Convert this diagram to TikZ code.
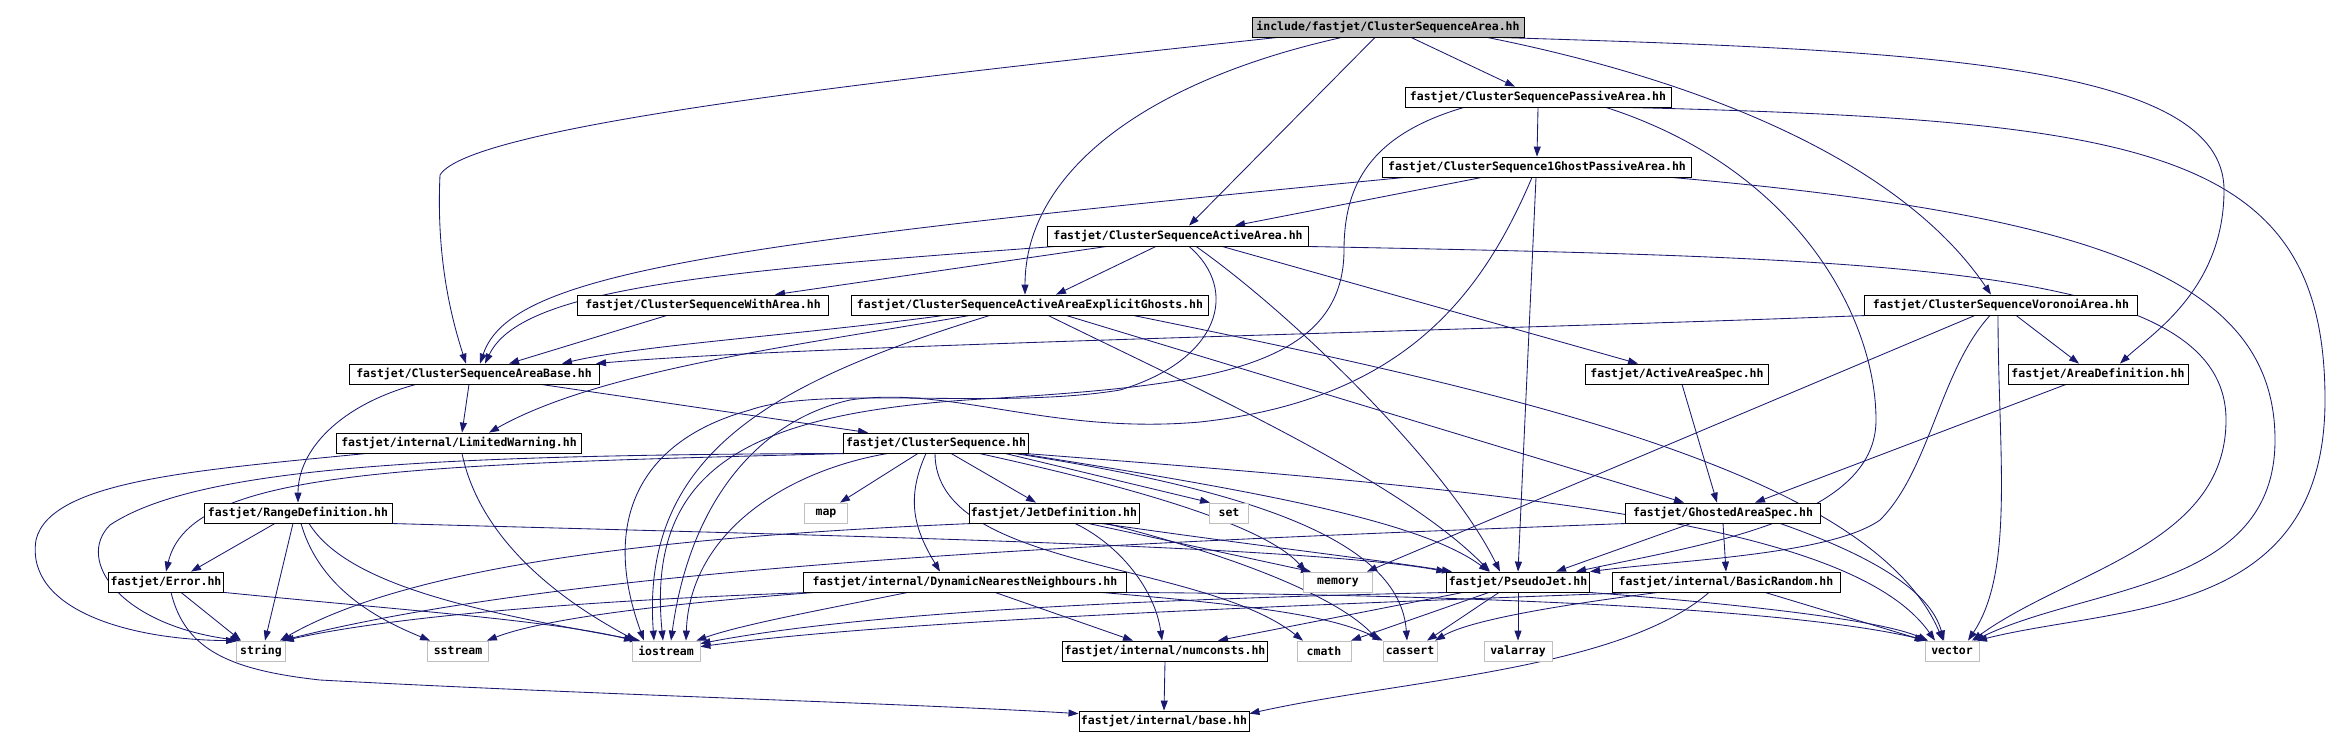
\documentclass[tikz,border=0pt]{standalone}
\usepackage{fontspec}
\setmonofont{DejaVu Sans Mono}
\usetikzlibrary{arrows.meta}
\definecolor{edgeblue}{HTML}{191970}
\definecolor{boxgray}{HTML}{BFBFBF}
\pgfdeclarelayer{edges}
\pgfsetlayers{edges,main}
\tikzset{
	hdr/.style={draw=black,line width=0.8pt,fill=white,rectangle,minimum height=20pt,inner xsep=2pt,inner ysep=1pt,font=\ttfamily\bfseries\fontsize{11.5}{12}\selectfont},
	syshdr/.style={hdr,draw=boxgray},
	roothdr/.style={hdr,fill=boxgray},
	dep/.style={draw=edgeblue,line width=0.85pt,-{Triangle[length=10pt,width=7pt]}}
}
\begin{document}
\begin{tikzpicture}[x=1pt,y=-1pt]
		\useasboundingbox (0,0) rectangle (2344,748);

		\node [roothdr,minimum width=272] (root) at (1388,27) {include/fastjet/ClusterSequenceArea.hh};
		\node [hdr,minimum width=266] (passive) at (1538,97) {fastjet/ClusterSequencePassiveArea.hh};
		\node [hdr,minimum width=309] (ghost1) at (1537,167) {fastjet/ClusterSequence1GhostPassiveArea.hh};
		\node [hdr,minimum width=261] (active) at (1178,236) {fastjet/ClusterSequenceActiveArea.hh};
		\node [hdr,minimum width=251] (witharea) at (703,305) {fastjet/ClusterSequenceWithArea.hh};
		\node [hdr,minimum width=357] (ghosts) at (1030,305) {fastjet/ClusterSequenceActiveAreaExplicitGhosts.hh};
		\node [hdr,minimum width=273] (voronoi) at (2001,305) {fastjet/ClusterSequenceVoronoiArea.hh};
		\node [hdr,minimum width=183] (activespec) at (1677,374) {fastjet/ActiveAreaSpec.hh};
		\node [hdr,minimum width=180] (areadef) at (2098,374) {fastjet/AreaDefinition.hh};
		\node [hdr,minimum width=250] (areabase) at (474,374) {fastjet/ClusterSequenceAreaBase.hh};
		\node [hdr,minimum width=245] (limited) at (459,443) {fastjet/internal/LimitedWarning.hh};
		\node [hdr,minimum width=185] (clseq) at (936,443) {fastjet/ClusterSequence.hh};
		\node [hdr,minimum width=188] (range) at (298,513) {fastjet/RangeDefinition.hh};
		\node [syshdr,minimum width=43] (sysmap) at (826,513) {map};
		\node [hdr,minimum width=164] (jetdef) at (1054,513) {fastjet/JetDefinition.hh};
		\node [syshdr,minimum width=39] (sysset) at (1229,513) {set};
		\node [hdr,minimum width=195] (ghostspec) at (1723,513) {fastjet/GhostedAreaSpec.hh};
		\node [hdr,minimum width=115] (error) at (166,582) {fastjet/Error.hh};
		\node [hdr,minimum width=323] (dnn) at (965,582) {fastjet/internal/DynamicNearestNeighbours.hh};
		\node [syshdr,minimum width=69] (sysmemory) at (1338,582) {memory};
		\node [hdr,minimum width=142] (pseudojet) at (1518,582) {fastjet/PseudoJet.hh};
		\node [hdr,minimum width=228] (random) at (1726,582) {fastjet/internal/BasicRandom.hh};
		\node [syshdr,minimum width=49] (sysstring) at (261,651) {string};
		\node [syshdr,minimum width=61] (syssstream) at (458,651) {sstream};
		\node [syshdr,minimum width=68] (iostream) at (666,651) {iostream};
		\node [hdr,minimum width=204] (numconsts) at (1165,651) {fastjet/internal/numconsts.hh};
		\node [syshdr,minimum width=54] (syscmath) at (1324,651) {cmath};
		\node [syshdr,minimum width=54] (syscassert) at (1410,651) {cassert};
		\node [syshdr,minimum width=68] (sysvalarray) at (1518,651) {valarray};
		\node [syshdr,minimum width=54] (sysvector) at (1952,651) {vector};
		\node [hdr,minimum width=162] (base) at (1164,721) {fastjet/internal/base.hh};

		\begin{pgfonlayer}{edges}
		% top level file
		\draw [dep] ([xshift=-110]root.south) .. controls (900,78) and (470,125) .. (440,175) .. controls (436,260) and (452,320) .. ([xshift=-8]areabase.north);
		\draw [dep] ([xshift=-46]root.south) .. controls (1150,80) and (1025,170) .. ([xshift=-5]ghosts.north);
		\draw [dep] ([xshift=-13]root.south) -- ([xshift=11]active.north);
		\draw [dep] ([xshift=23]root.south) -- ([xshift=-23]passive.north);
		\draw [dep] ([xshift=99]root.south) .. controls (1700,80) and (1900,160) .. ([xshift=-10]voronoi.north);
		\draw [dep] ([xshift=110]root.south) .. controls (1900,50) and (2224,60) .. (2224,190) .. controls (2224,290) and (2150,335) .. ([xshift=22]areadef.north);

		\draw [dep] (passive.south) -- (ghost1.north);
		\draw [dep] ([xshift=-74]passive.south) .. controls (1370,135) and (1344,185) .. (1344,250) .. controls (1344,370) and (1200,385) .. (1000,398) .. controls (760,410) and (645,460) .. ([xshift=-3]iostream.north);
		\draw [dep] ([xshift=68]passive.south) .. controls (1800,170) and (1876,320) .. (1876,420) .. controls (1876,520) and (1700,545) .. ([xshift=58]pseudojet.north);
		\draw [dep] ([xshift=88]passive.south) .. controls (2150,120) and (2325,150) .. (2325,400) .. controls (2325,620) and (2120,605) .. ([xshift=25]sysvector.north);

		\draw [dep] ([xshift=-132]ghost1.south) .. controls (700,245) and (510,275) .. ([xshift=6]areabase.north);
		\draw [dep] ([xshift=-55]ghost1.south) -- ([xshift=57]active.north);
		\draw [dep] ([xshift=-1]ghost1.south) -- (pseudojet.north);
		\draw [dep] ([xshift=-5]ghost1.south) .. controls (1480,300) and (1400,400) .. (1200,422) .. controls (1050,435) and (950,385) .. (850,400) .. controls (760,420) and (690,500) .. ([xshift=5]iostream.north);
		\draw [dep] ([xshift=134]ghost1.south) .. controls (2100,215) and (2275,280) .. (2275,440) .. controls (2275,590) and (2090,585) .. ([xshift=22]sysvector.north);

		\draw [dep] ([xshift=-71]active.south) -- ([xshift=72]witharea.north);
		\draw [dep] ([xshift=-122]active.south) .. controls (700,272) and (520,290) .. ([xshift=11]areabase.north);
		\draw [dep] ([xshift=-22]active.south) -- ([xshift=26]ghosts.north);
		\draw [dep] ([xshift=44]active.south) -- ([xshift=-39]activespec.north);
		\draw [dep] ([xshift=18]active.south) .. controls (1300,320) and (1450,470) .. ([xshift=-18]pseudojet.north);
		\draw [dep] ([xshift=11]active.south) .. controls (1240,290) and (1220,360) .. (1120,390) .. controls (1000,410) and (820,385) .. (750,410) .. controls (640,440) and (600,520) .. ([xshift=-22]iostream.north);
		\draw [dep] ([xshift=-5]active.south east) .. controls (1900,258) and (2226,265) .. (2226,420) .. controls (2226,545) and (2070,570) .. ([xshift=20]sysvector.north);

		\draw [dep] ([xshift=-36]witharea.south) -- ([xshift=35]areabase.north);

		\draw [dep] ([xshift=-86]ghosts.south) .. controls (800,335) and (640,345) .. ([xshift=88]areabase.north);
		\draw [dep] ([xshift=-60]ghosts.south) .. controls (800,345) and (600,370) .. ([xshift=30]limited.north);
		\draw [dep] ([xshift=-40]ghosts.south) .. controls (780,380) and (640,450) .. ([xshift=-12]iostream.north);
		\draw [dep] ([xshift=18]ghosts.south) .. controls (1200,390) and (1400,480) .. ([xshift=-28]pseudojet.north);
		\draw [dep] ([xshift=36]ghosts.south) -- ([xshift=-39]ghostspec.north);
		\draw [dep] ([xshift=103]ghosts.south) .. controls (1500,390) and (1870,470) .. ([xshift=-9]sysvector.north);

		\draw [dep] ([xshift=-133]voronoi.south) .. controls (1500,330) and (800,345) .. ([xshift=122]areabase.north);
		\draw [dep] ([xshift=-26]voronoi.south) -- ([xshift=29]sysmemory.north);
		\draw [dep] ([xshift=-11]voronoi.south) .. controls (1940,370) and (1930,470) .. (1880,520) .. controls (1830,555) and (1680,560) .. ([xshift=72]pseudojet.north);
		\draw [dep] ([xshift=-3]voronoi.south) .. controls (1998,450) and (2015,570) .. ([xshift=16]sysvector.north);
		\draw [dep] ([xshift=15]voronoi.south) -- ([xshift=-19]areadef.north);

		\draw [dep] ([xshift=5]activespec.south) -- ([xshift=-6]ghostspec.north);
		\draw [dep] ([xshift=-32]areadef.south) -- ([xshift=32]ghostspec.north);

		\draw [dep] ([xshift=-58]areabase.south) .. controls (340,405) and (298,450) .. (range.north);
		\draw [dep] ([xshift=-5]areabase.south) -- ([xshift=3]limited.north);
		\draw [dep] ([xshift=67]areabase.south) -- ([xshift=-68]clseq.north);

		\draw [dep] ([xshift=-92]limited.south) .. controls (200,470) and (50,480) .. (36,540) .. controls (25,610) and (130,640) .. (sysstring.north west);
		\draw [dep] ([xshift=3]limited.south) .. controls (480,540) and (560,600) .. ([xshift=-30]iostream.north);

		% ClusterSequence.hh
		\draw [dep] ([xshift=-90]clseq.south) .. controls (450,455) and (200,465) .. (110,525) .. controls (75,560) and (120,625) .. ([xshift=4]sysstring.north west);
		\draw [dep] ([xshift=-86]clseq.south) .. controls (400,465) and (190,470) .. (error.north);
		\draw [dep] ([xshift=-18]clseq.south) -- ([xshift=14]sysmap.north);
		\draw [dep] ([xshift=-48]clseq.south) .. controls (790,470) and (690,530) .. ([xshift=20]iostream.north);
		\draw [dep] ([xshift=-10]clseq.south) .. controls (905,500) and (915,530) .. ([xshift=-25]dnn.north);
		\draw [dep] ([xshift=-1]clseq.south) .. controls (935,570) and (1200,560) .. ([xshift=-21]syscmath.north);
		\draw [dep] ([xshift=15]clseq.south) -- ([xshift=-18]jetdef.north);
		\draw [dep] ([xshift=43]clseq.south) .. controls (1100,480) and (1260,520) .. ([xshift=-32]sysmemory.north);
		\draw [dep] ([xshift=69]clseq.south) -- ([xshift=-19]sysset.north);
		\draw [dep] ([xshift=78]clseq.south) .. controls (1250,490) and (1400,540) .. ([xshift=-3]syscassert.north);
		\draw [dep] ([xshift=83]clseq.south) .. controls (1250,490) and (1420,520) .. ([xshift=-29]pseudojet.north);
		\draw [dep] ([xshift=88]clseq.south) .. controls (1500,490) and (1850,520) .. ([xshift=-17]sysvector.north);

		\draw [dep] ([xshift=-23]range.south) -- ([xshift=25]error.north);
		\draw [dep] ([xshift=-5]range.south) -- ([xshift=4]sysstring.north);
		\draw [dep] ([xshift=3]range.south) .. controls (320,590) and (380,620) .. ([xshift=-28]syssstream.north);
		\draw [dep] ([xshift=11]range.south) .. controls (350,590) and (500,615) .. ([xshift=-26]iostream.north);
		\draw [dep] ([xshift=90]range.south) .. controls (800,535) and (1300,545) .. (pseudojet.north west);

		\draw [dep] ([xshift=15]error.south) -- ([xshift=-20]sysstring.north);
		\draw [dep] (error.south east) .. controls (400,610) and (550,620) .. ([xshift=-32]iostream.north);
		\draw [dep] ([xshift=5]error.south) .. controls (185,650) and (230,670) .. (320,680) .. controls (600,695) and (900,703) .. ([yshift=-3]base.north west);

		\draw [dep] ([xshift=-80]jetdef.south) .. controls (700,535) and (420,560) .. ([xshift=-6]sysstring.north east);
		\draw [dep] ([xshift=21]jetdef.south) .. controls (1120,545) and (1155,590) .. ([xshift=-3]numconsts.north);
		\draw [dep] ([xshift=34]jetdef.south) -- ([xshift=-27]sysmemory.north);
		\draw [dep] ([xshift=47]jetdef.south) .. controls (1250,545) and (1380,560) .. ([xshift=-66]pseudojet.north);
		\draw [dep] ([xshift=52]jetdef.south) .. controls (1250,560) and (1340,600) .. ([xshift=-4]syscassert.north west);

		\draw [dep] ([xshift=-95]ghostspec.south) .. controls (1200,540) and (600,560) .. ([xshift=-4]sysstring.north east);
		\draw [dep] ([xshift=-32]ghostspec.south) -- ([xshift=38]pseudojet.north);
		\draw [dep] (ghostspec.south) -- (random.north);
		\draw [dep] ([xshift=57]ghostspec.south) .. controls (1870,555) and (1930,590) .. ([xshift=-8]sysvector.north);

		\draw [dep] ([xshift=-154]dnn.south) .. controls (600,600) and (400,615) .. ([xshift=-2]sysstring.north east);
		\draw [dep] ([xshift=-150]dnn.south) .. controls (650,605) and (540,620) .. ([xshift=-2]syssstream.north east);
		\draw [dep] ([xshift=-57]dnn.south) .. controls (820,610) and (740,625) .. ([xshift=-4]iostream.north east);
		\draw [dep] ([xshift=30]dnn.south) -- ([xshift=-32]numconsts.north);
		\draw [dep] ([xshift=136]dnn.south) .. controls (1250,605) and (1330,615) .. (syscassert.north west);
		\draw [dep] ([xshift=161]dnn.south) .. controls (1500,595) and (1800,610) .. ([xshift=-25]sysvector.north);

		\draw [dep] ([xshift=-55]pseudojet.south) -- ([xshift=53]numconsts.north);
		\draw [dep] ([xshift=-29]pseudojet.south) -- ([xshift=27]syscmath.north);
		\draw [dep] ([xshift=-19]pseudojet.south) -- ([xshift=17]syscassert.north);
		\draw [dep] (pseudojet.south) -- (sysvalarray.north);
		\draw [dep] (pseudojet.south east) .. controls (1750,605) and (1880,620) .. ([xshift=-24]sysvector.north);
		\draw [dep] ([xshift=-68]pseudojet.south) .. controls (1100,600) and (850,615) .. ([yshift=-3]iostream.north east);

		\draw [dep] ([xshift=-86]random.south) .. controls (1300,605) and (900,620) .. ([yshift=-6]iostream.north east);
		\draw [dep] ([xshift=-68]random.south) .. controls (1560,605) and (1470,620) .. ([xshift=25]syscassert.north);
		\draw [dep] ([xshift=-17]random.south) .. controls (1620,670) and (1400,680) .. ([yshift=-3]base.north east);
		\draw [dep] ([xshift=39]random.south) -- (sysvector.north west);

		\draw [dep] (numconsts.south) -- (base.north);
		\end{pgfonlayer}
	\end{tikzpicture}
\end{document}
